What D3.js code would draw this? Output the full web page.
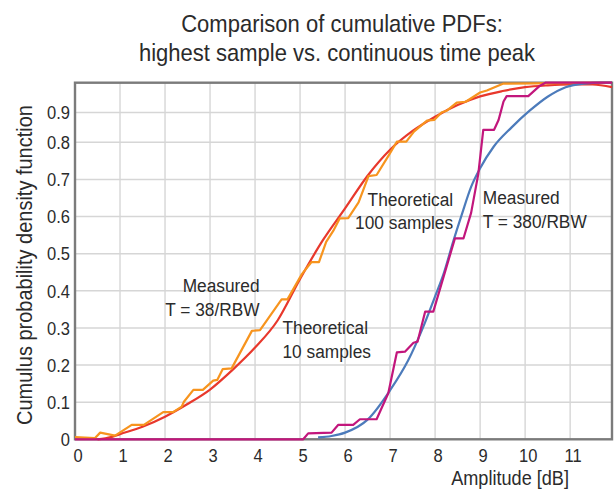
<!DOCTYPE html>
<html>
<head>
<meta charset="utf-8">
<script src="https://cdn.jsdelivr.net/npm/d3@7"></script>
<style>
  body { margin: 0; background: #fff; }
  text { font-family: "Liberation Sans", Arial, sans-serif; fill: #2b2b2b; }
</style>
</head>
<body>
<svg width="616" height="491"></svg>
<script>
// values
const xTicks = [0, 1, 2, 3, 4, 5, 6, 7, 8, 9, 10, 11],
    yTicks = [0, 0.1, 0.2, 0.3, 0.4, 0.5, 0.6, 0.7, 0.8, 0.9]

// theoretical, 10 samples
const theo10X = [0.5, 0.8, 1, 1.5, 2, 2.5, 3, 3.5, 4, 4.5, 5, 5.5, 6, 6.5, 7, 7.5, 8, 8.5, 9, 9.5, 10, 10.5, 11, 11.5, 11.93],
    theo10Y = [0, 0.006, 0.014, 0.034, 0.061, 0.095, 0.134, 0.187, 0.247, 0.32, 0.432, 0.535, 0.622, 0.71, 0.78, 0.838, 0.886, 0.925, 0.954, 0.972, 0.985, 0.991, 0.994, 0.994, 0.985]

// theoretical, 100 samples
const theo100X = [5.4, 5.7, 6, 6.5, 7, 7.4, 7.7, 8, 8.2, 8.4, 8.6, 8.8, 9, 9.3, 9.7, 10.1, 10.5, 10.9, 11.3, 11.7, 11.93],
    theo100Y = [0.005, 0.009, 0.018, 0.053, 0.132, 0.212, 0.292, 0.385, 0.45, 0.532, 0.608, 0.68, 0.73, 0.788, 0.85, 0.906, 0.953, 0.985, 0.997, 1.0, 1.0]

// measured, T = 38/RBW
const meas38X = [0, 0.44, 0.56, 0.89, 1.26, 1.53, 1.96, 2.18, 2.37, 2.42, 2.63, 2.84, 3.07, 3.16, 3.28, 3.48, 3.93, 4.11, 4.59, 4.72, 5.04, 5.25, 5.42, 5.58, 5.74, 5.88, 6.07, 6.3, 6.52, 6.7, 6.98, 7.15, 7.36, 7.53, 7.82, 7.98, 8.15, 8.26, 8.48, 8.68, 9.0, 9.15, 9.52, 11.93],
    meas38Y = [0.006, 0.003, 0.018, 0.01, 0.039, 0.039, 0.073, 0.073, 0.088, 0.101, 0.133, 0.133, 0.158, 0.16, 0.189, 0.191, 0.292, 0.294, 0.377, 0.377, 0.445, 0.477, 0.477, 0.532, 0.562, 0.595, 0.596, 0.638, 0.709, 0.712, 0.767, 0.802, 0.802, 0.836, 0.873, 0.875, 0.901, 0.906, 0.933, 0.936, 0.967, 0.974, 0.997, 1.0]

// measured, T = 380/RBW
const meas380X = [0, 5.07, 5.18, 5.7, 5.85, 6.18, 6.33, 6.7, 6.96, 7.15, 7.33, 7.52, 7.61, 7.78, 7.96, 8.44, 8.63, 8.8, 8.96, 9.07, 9.31, 9.41, 9.46, 9.52, 9.59, 10.07, 10.33, 10.45, 11.93],
    meas380Y = [0, 0, 0.016, 0.018, 0.039, 0.039, 0.054, 0.054, 0.124, 0.234, 0.236, 0.26, 0.263, 0.344, 0.344, 0.541, 0.541, 0.61, 0.715, 0.842, 0.842, 0.875, 0.903, 0.937, 0.955, 0.955, 0.99, 1.0, 1.0]

const series = [
    { xs: theo10X, ys: theo10Y, color: '#e8382c', smooth: true },
    { xs: meas38X, ys: meas38Y, color: '#f7941e', smooth: false },
    { xs: theo100X, ys: theo100Y, color: '#4c7bbb', smooth: true },
    { xs: meas380X, ys: meas380Y, color: '#c2167c', smooth: false }
]

// label anchors in data units
const labels = [
    { lines: ['Measured', 'T = 38/RBW'], x: 4.1, y: 0.396, anchor: 'end' },
    { lines: ['Theoretical', '10 samples'], x: 4.61, y: 0.283, anchor: 'start' },
    { lines: ['Theoretical', '100 samples'], x: 8.4, y: 0.629, anchor: 'end' },
    { lines: ['Measured', 'T = 380/RBW'], x: 9.06, y: 0.633, anchor: 'start' }
]

const svg = d3.select('svg'),
    plotL = 75, plotR = 612, plotT = 82.7, plotB = 439.3

const x = d3.scaleLinear().domain([0, 11.93]).range([plotL, plotR])
// the original plot squeezes the band above 0.8
const y = d3.scaleLinear().domain([0, 0.8, 1.0]).range([plotB, 142.3, plotT])

// condensed look: squeeze a regular face horizontally
function label(px, py, size, sx, anchor, rot) {
    return svg.append('g')
        .attr('transform', 'translate(' + px + ',' + py + ')' + (rot ? 'rotate(' + rot + ')' : '') + 'scale(' + sx + ',1)')
        .append('text')
        .style('text-anchor', anchor)
        .style('font-size', size + 'px')
}

// grid
svg.append('g').selectAll('line')
    .data(xTicks.filter(d => d > 0))
    .enter().append('line')
    .attr('x1', d => x(d)).attr('x2', d => x(d))
    .attr('y1', plotT).attr('y2', plotB)
    .style('stroke', '#d6d6d6').style('stroke-width', 1.4)

svg.append('g').selectAll('line')
    .data(yTicks.filter(d => d > 0))
    .enter().append('line')
    .attr('x1', plotL).attr('x2', plotR)
    .attr('y1', d => y(d)).attr('y2', d => y(d))
    .style('stroke', '#d6d6d6').style('stroke-width', 1.4)

// frame
svg.append('rect')
    .attr('x', plotL).attr('y', plotT)
    .attr('width', plotR - plotL).attr('height', plotB - plotT)
    .style('fill', 'none').style('stroke', '#7b7b7b').style('stroke-width', 2.4)

// tick labels
xTicks.forEach(d => label(x(d) + 3, 462, 19, 0.87, 'middle').text(d))
yTicks.forEach(d => label(70, y(d) + 6.8, 19, 0.87, 'end').text(d === 0 ? '0' : d.toFixed(1)))

// curves
const straight = d3.line().x(d => x(d[0])).y(d => y(d[1])),
    smooth = d3.line().curve(d3.curveMonotoneX).x(d => x(d[0])).y(d => y(d[1]))

svg.append('g').selectAll('path')
    .data(series)
    .enter().append('path')
    .attr('d', s => (s.smooth ? smooth : straight)(s.xs.map((v, i) => [v, s.ys[i]])))
    .style('fill', 'none')
    .style('stroke', s => s.color)
    .style('stroke-width', 2.2)
    .style('stroke-linejoin', 'round')

// annotations
labels.forEach(function (l) {
    const t = label(x(l.x), y(l.y), 19, 0.91, l.anchor)
    l.lines.forEach(function (s, i) {
        t.append('tspan').attr('x', 0).attr('dy', i ? 23.5 : 0).text(s)
    })
})

// titles
label(342, 32, 24, 0.917, 'middle').text('Comparison of cumulative PDFs:')
label(337, 61, 24, 0.917, 'middle').text('highest sample vs. continuous time peak')

label(569, 485, 19.5, 0.93, 'end').text('Amplitude [dB]')
label(32, 265, 21.9, 0.913, 'middle', -90).text('Cumulus probability density function')
</script>
</body>
</html>
